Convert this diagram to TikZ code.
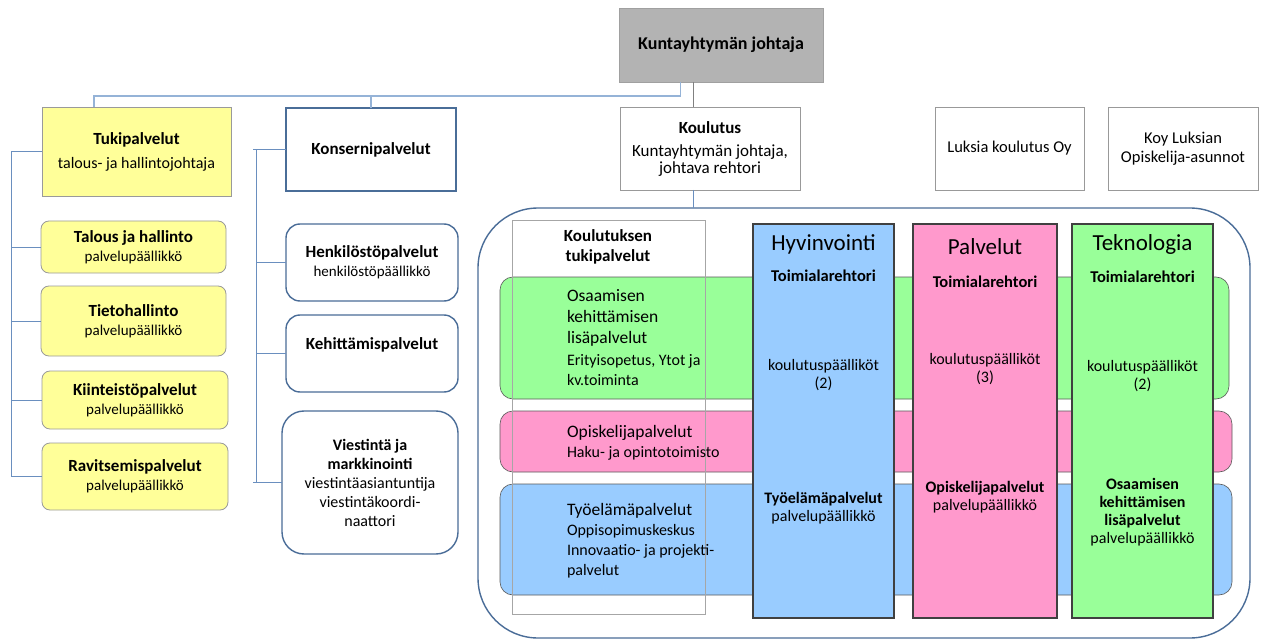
\documentclass[tikz,border=0pt]{standalone}
\usepackage{fontspec}
\setmainfont{Carlito}
\usetikzlibrary{calc}
\definecolor{kgray}{HTML}{B3B3B3}
\definecolor{kgrayb}{HTML}{A0A0A0}
\definecolor{yel}{HTML}{FFFF99}
\definecolor{yelb}{HTML}{9A9A9A}
\definecolor{steel}{HTML}{4A6D98}
\definecolor{lblue}{HTML}{95B3D7}
\definecolor{cline}{HTML}{6A8FBF}
\definecolor{gb}{HTML}{99FF99}
\definecolor{pb}{HTML}{FF99CC}
\definecolor{bb}{HTML}{99CCFF}
\definecolor{darkb}{HTML}{404040}
\definecolor{bandb}{HTML}{5A5A5A}
\begin{document}
\begin{tikzpicture}[x=1pt,y=-1pt,
  every node/.style={inner sep=0pt,outer sep=0pt},
  fn/.style={font=\fontsize{16}{19}\selectfont},
  kbox/.style={draw=kgrayb,fill=kgray,line width=0.8pt,anchor=north west,fn},
  gbox/.style={draw=gray!80,line width=0.8pt,fill=white,anchor=north west,align=center,fn},
  ybox/.style={draw=yelb,fill=yel,line width=0.8pt,anchor=north west,align=center,fn},
  yrbox/.style={ybox,rounded corners=8pt},
  sbox/.style={draw=steel,line width=1.4pt,fill=white,anchor=north west,align=center,fn},
  srbox/.style={sbox,rounded corners=14pt},
  band/.style={draw=bandb,line width=0.6pt,rounded corners=13pt,anchor=north west},
  col/.style={draw=darkb,line width=2pt,anchor=north west},
  conn/.style={draw=cline,line width=0.9pt},
  topl/.style={draw=lblue,line width=1.2pt},
  grayl/.style={draw=gray,line width=1.2pt},
  bandh/.style={anchor=west,align=left,font=\fontsize{17.5}{21}\selectfont},
  bands/.style={anchor=west,align=left,font=\fontsize{16}{20}\selectfont},
  ctitle/.style={font=\fontsize{23}{27}\selectfont},
  cbold/.style={align=center,font=\fontsize{16.5}{18}\selectfont\bfseries},
  creg/.style={align=center,font=\fontsize{16}{18}\selectfont}
]
\useasboundingbox[fill=white] (0,0) rectangle (1264,639);

% top level
\node[kbox,minimum width=204,minimum height=74,font=\fontsize{18}{20}\selectfont] (kunt) at (619,8) {\bfseries Kuntayhtymän johtaja};
\node[gbox,minimum width=180,minimum height=83,font=\fontsize{17}{17}\selectfont] (koul) at (620,107)
  {{\bfseries Koulutus}\\[6pt]Kuntayhtymän johtaja,\\johtava rehtori};
\node[gbox,minimum width=149,minimum height=83,font=\fontsize{16.5}{19}\selectfont] (luk) at (935,107) {Luksia koulutus Oy};
\node[gbox,minimum width=150,minimum height=83,font=\fontsize{16.5}{19}\selectfont] (koy) at (1108,107) {Koy Luksian\\Opiskelija-asunnot};

% left column
\node[ybox,minimum width=189,minimum height=89] (tuki) at (42,107)
  {{\bfseries\fontsize{17}{20}\selectfont Tukipalvelut}\\[5pt]talous- ja hallintojohtaja};
\node[yrbox,minimum width=185,minimum height=52] (tal) at (41,221)
  {{\bfseries\fontsize{17}{20}\selectfont Talous ja hallinto}\\{\fontsize{15}{18}\selectfont palvelupäällikkö}};
\node[yrbox,minimum width=185,minimum height=70] (tie) at (41,286)
  {{\bfseries\fontsize{17}{20}\selectfont Tietohallinto}\\{\fontsize{15}{18}\selectfont palvelupäällikkö}};
\node[yrbox,minimum width=186,minimum height=58] (kii) at (42,371)
  {{\bfseries\fontsize{17}{20}\selectfont Kiinteistöpalvelut}\\{\fontsize{15}{18}\selectfont palvelupäällikkö}};
\node[yrbox,minimum width=186,minimum height=67] (rav) at (42,443)
  {{\bfseries\fontsize{17}{20}\selectfont Ravitsemispalvelut}\\{\fontsize{15}{18}\selectfont palvelupäällikkö}};

% middle column
\node[sbox,minimum width=170,minimum height=83] (kons) at (286,108) {\bfseries\fontsize{17}{20}\selectfont Konsernipalvelut};
\node[srbox,minimum width=172,minimum height=77] (henk) at (286,224)
  {{\bfseries\fontsize{17}{20}\selectfont Henkilöstöpalvelut}\\{\fontsize{15}{18}\selectfont henkilöstöpäällikkö}};
\node[srbox,minimum width=172,minimum height=77] (keh) at (286,315) {};
\node[font=\fontsize{17}{20}\selectfont\bfseries] at ($(keh.center)+(0,-9)$) {Kehittämispalvelut};
\node[srbox,minimum width=176,minimum height=143,rounded corners=22pt] (vie) at (282,411)
  {\fontsize{16}{19.5}\selectfont\bfseries Viestintä ja\\\fontsize{16}{19.5}\selectfont\bfseries markkinointi\\viestintäasiantuntija\\viestintäkoordi-\\naattori};

% connectors top
\coordinate (kb) at ($(kunt.south west)!0.3!(kunt.south east)$);
\coordinate (hb) at (94,96);
\draw[topl] (kb) |- (hb) -- (hb |- tuki.north);
\draw[topl] (kons.north) -- (kons.north |- hb);
\coordinate (kg) at ($(kunt.south west)!0.365!(kunt.south east)$);
\draw[grayl] (kg) -- (kg |- koul.north);

% left bus
\coordinate (lb) at (11,0);
\draw[conn] (tuki.west) -- (lb |- tuki.west) -- (lb |- rav.west) -- (rav.west);
\draw[conn] (lb |- tal.west) -- (tal.west);
\draw[conn] (lb |- tie.west) -- (tie.west);
\draw[conn] (lb |- kii.west) -- (kii.west);
% middle bus
\coordinate (mb) at (256,0);
\draw[conn] (kons.west) -- ++(-33,0);
\draw[conn] (mb |- kons.west) -- (mb |- vie.west);
\draw[conn] (vie.west) -- ++(-29,0);
\draw[conn] (mb |- henk.west) -- (henk.west);
\draw[conn] (mb |- keh.west) -- (keh.west);

% big koulutus container
\node[draw=steel,line width=1.4pt,rounded corners=60pt,minimum width=772,minimum height=430,anchor=north west] (koulb) at (478,208) {};
\draw[conn] (kg |- koul.south) -- (kg |- koulb.north);

% bands
\node[band,fill=gb,minimum width=729,minimum height=122] (gband) at (500,277) {};
\node[band,fill=pb,minimum width=732,minimum height=61] (pband) at (500,411) {};
\node[band,fill=bb,minimum width=732,minimum height=111] (bband) at (500,484) {};
\node[draw=gray!70,line width=1pt,minimum width=193,minimum height=393,anchor=north west] (ktuki) at (512,221) {};
\node[cbold,font=\fontsize{17}{20}\selectfont\bfseries] at (608,247) {Koulutuksen\\tukipalvelut};

\node[bandh] at (567,318) {Osaamisen\\kehittämisen\\lisäpalvelut};
\node[bands] at (567,370) {Erityisopetus, Ytot ja\\kv.toiminta};
\node[bandh] at (567,433) {Opiskelijapalvelut};
\node[bands] at (567,453) {Haku- ja opintotoimisto};
\node[bandh] at (567,511) {Työelämäpalvelut};
\node[bands] at (567,551) {Oppisopimuskeskus\\Innovaatio- ja projekti-\\palvelut};

% columns
\node[col,fill=bb,minimum width=141,minimum height=394] (hyv) at (753,224) {};
\node[col,fill=pb,minimum width=144,minimum height=394] (pal) at (913,224) {};
\node[col,fill=gb,minimum width=141,minimum height=394] (tek) at (1072,224) {};

\node[ctitle] at (hyv.center |- 0,244) {Hyvinvointi};
\node[cbold] at (hyv.center |- 0,276) {Toimialarehtori};
\node[creg] at (hyv.center |- 0,375) {koulutuspäälliköt\\(2)};
\node[creg] at (hyv.center |- 0,508) {{\bfseries Työelämäpalvelut}\\palvelupäällikkö};

\node[ctitle] at (pal.center |- 0,247) {Palvelut};
\node[cbold] at (pal.center |- 0,282) {Toimialarehtori};
\node[creg] at (pal.center |- 0,369) {koulutuspäälliköt\\(3)};
\node[creg] at (pal.center |- 0,497) {{\bfseries Opiskelijapalvelut}\\palvelupäällikkö};

\node[ctitle] at (tek.center |- 0,244) {Teknologia};
\node[cbold] at (tek.center |- 0,277) {Toimialarehtori};
\node[creg] at (tek.center |- 0,376) {koulutuspäälliköt\\(2)};
\node[creg] at (tek.center |- 0,512) {{\bfseries Osaamisen}\\{\bfseries kehittämisen}\\{\bfseries lisäpalvelut}\\palvelupäällikkö};
\end{tikzpicture}
\end{document}
